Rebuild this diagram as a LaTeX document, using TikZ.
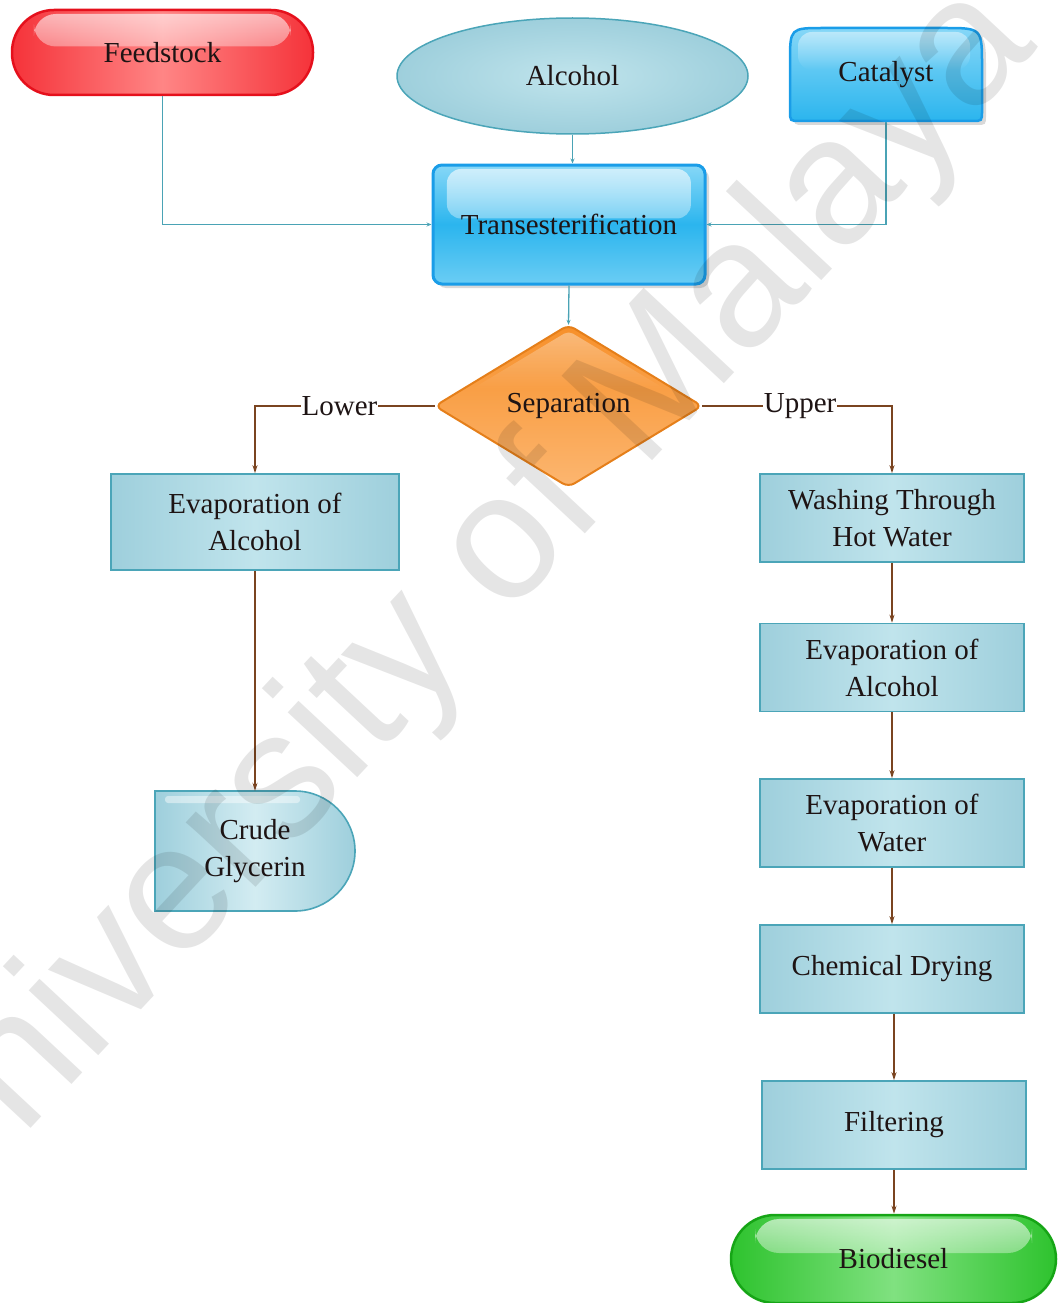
\documentclass[tikz,border=0pt]{standalone}
\usepackage{fontspec}
\setmainfont{Liberation Serif}
\newfontfamily\wmfont{Liberation Sans}
\usetikzlibrary{shapes.geometric,arrows.meta,shadows,fadings}

\definecolor{boxfill}{HTML}{C0E4EC}
\definecolor{boxedge}{HTML}{9ECFDC}
\definecolor{boxline}{HTML}{4BA5B8}
\definecolor{tealline}{HTML}{4AA3B5}
\definecolor{brownline}{HTML}{7A4420}
\definecolor{bluefill}{HTML}{2BB5EE}
\definecolor{bluelight}{HTML}{86D7F7}
\definecolor{blueline}{HTML}{1A9DE8}
\definecolor{redfill}{HTML}{F5333A}
\definecolor{redlight}{HTML}{FF8585}
\definecolor{redline}{HTML}{E5101C}
\definecolor{greenfill}{HTML}{2EC32E}
\definecolor{greenlight}{HTML}{80E180}
\definecolor{greenline}{HTML}{16A516}
\definecolor{orfill}{HTML}{F7902A}
\definecolor{orlight}{HTML}{FCB670}
\definecolor{orline}{HTML}{E57F1A}
\definecolor{txt}{HTML}{1E1414}

\tikzfading[name=glossfade, top color=transparent!25, bottom color=transparent!100]

\tikzset{
  lbl/.style={font=\fontsize{29}{37}\selectfont, text=txt, align=center},
  procbox/.style={lbl, rectangle, draw=boxline, line width=1.6pt,
    left color=boxedge, right color=boxedge, middle color=boxfill,
    minimum width=264pt, minimum height=88pt, inner sep=0pt},
  gloss/.style={path picture={
    \fill[white, path fading=glossfade, fill opacity=.85, rounded corners=#1]
      ([xshift=#1, yshift=-4pt]path picture bounding box.north west)
      rectangle ([xshift=-#1, yshift=6pt]path picture bounding box.east);}},
  terminal/.style={lbl, rectangle, rounded corners=42pt, line width=2.5pt,
    minimum width=301pt, minimum height=85pt, inner sep=0pt},
  tealarrow/.style={draw=tealline, line width=1.3pt, -{Stealth[length=5pt,width=4pt]}},
  brownarrow/.style={draw=brownline, line width=1.5pt, -{Stealth[length=8pt,width=5pt]}},
  plain/.style={lbl, rectangle, inner sep=0pt},
  edgelbl/.style={lbl, fill=white, inner sep=1pt},
  shade/.style={drop shadow={shadow xshift=4pt, shadow yshift=-4pt, opacity=.3}}
}

\begin{document}
\begin{tikzpicture}[x=1pt,y=-1pt]
\useasboundingbox (0,0) rectangle (1058,1303);
\clip (0,0) rectangle (1058,1303);

% ---------- top row ----------
\node[terminal, draw=redline, left color=redfill, right color=redfill, middle color=redlight, gloss=22pt]
  (feed) at (162.5,52.5) {Feedstock};

\node[lbl, ellipse, draw=boxline, line width=1.5pt, inner color=boxfill, outer color=boxedge,
  minimum width=351pt, minimum height=116pt, inner sep=0pt] (alc) at (572.5,76) {Alcohol};

% Catalyst shape
\path[shade, draw=blueline, line width=2.5pt, top color=bluelight, bottom color=bluefill]
  (790,62) -- (790,111) .. controls (790,121) .. (800,121) -- (972,121)
  .. controls (982,121) .. (982,111) -- (982,66) .. controls (982,28) .. (944,28)
  -- (824,28) .. controls (790,28) .. (790,62) -- cycle;
\fill[white, path fading=glossfade, fill opacity=.6, rounded corners=14pt]
  (798,32) rectangle (970,70);
\node[plain, minimum width=192pt, minimum height=94pt] (cat) at (886,74.5) {Catalyst};

% Transesterification
\node[lbl, rectangle, rounded corners=9pt, draw=blueline, line width=3pt, shade,
  top color=bluelight, bottom color=bluelight!70!bluefill, middle color=bluefill,
  minimum width=272pt, minimum height=119pt, inner sep=0pt, gloss=14pt]
  (trans) at (569,224.5) {Transesterification};

% Separation diamond
\path[draw=orline, line width=2pt, rounded corners=7pt, top color=orfill, bottom color=orlight]
  (568.5,325) -- (702,406) -- (568.5,487) -- (435,406) -- cycle;
\fill[white, path fading=glossfade, fill opacity=.5, rounded corners=5pt]
  (568.5,331) -- (665,389) -- (472,389) -- cycle;
\node[plain, minimum width=267pt, minimum height=162pt] (sep) at (568.5,406) {Separation};

% left branch
\node[procbox, minimum width=288pt, minimum height=96pt] (evL) at (255,522) {Evaporation of\\Alcohol};

\path[draw=boxline, line width=1.6pt, left color=boxedge, right color=boxedge, middle color=boxfill!70!white]
  (155,791) -- (295,791) .. controls (328,791) and (355,818) .. (355,851)
  .. controls (355,884) and (328,911) .. (295,911) -- (155,911) -- cycle;
\fill[white, opacity=.45, rounded corners=3pt] (165,796) rectangle (300,803);
\node[plain, minimum width=200pt, minimum height=120pt] (crude) at (255,851) {Crude\\Glycerin};

% right branch
\node[procbox] (wash) at (892,518) {Washing Through\\Hot Water};
\node[procbox] (evA) at (892,667.5) {Evaporation of\\Alcohol};
\node[procbox] (evW) at (892,823) {Evaporation of\\Water};
\node[procbox] (dry) at (892,969) {Chemical Drying};
\node[procbox] (filt) at (894,1125) {Filtering};

\node[terminal, draw=greenline, left color=greenfill, right color=greenfill, middle color=greenlight,
  minimum width=325pt, minimum height=88pt, rounded corners=44pt, gloss=24pt]
  (bio) at (893.5,1259) {Biodiesel};

% ---------- connectors ----------
\draw[tealarrow] (feed.south) |- (trans.west);
\draw[tealarrow] (cat.south) |- (trans.east);
\draw[tealarrow] (alc.south) -- (alc.south |- trans.north);
\draw[tealarrow] (trans.south) -- (sep.north);

\draw[brownarrow] (sep.west) -| node[edgelbl, pos=.265] (lowlab) {Lower} (evL.north);
\draw[brownarrow] (sep.east) -| node[edgelbl, pos=.258] (uplab) {Upper} (wash.north);
\draw[brownarrow] (evL.south) -- (crude.north);

\draw[brownarrow] (wash.south) -- (evA.north);
\draw[brownarrow] (evA.south) -- (evW.north);
\draw[brownarrow] (evW.south) -- (dry.north);
\draw[brownarrow] (filt.north |- dry.south) -- (filt.north);
\draw[brownarrow] (filt.south) -- (filt.south |- bio.north);

% ---------- watermark ----------
\node[font=\wmfont\fontsize{180}{180}\selectfont, text=black, text opacity=0.1,
  rotate=47, anchor=base, inner sep=0pt] (wm) at (486,640) {University of Malaya};
\end{tikzpicture}
\end{document}
